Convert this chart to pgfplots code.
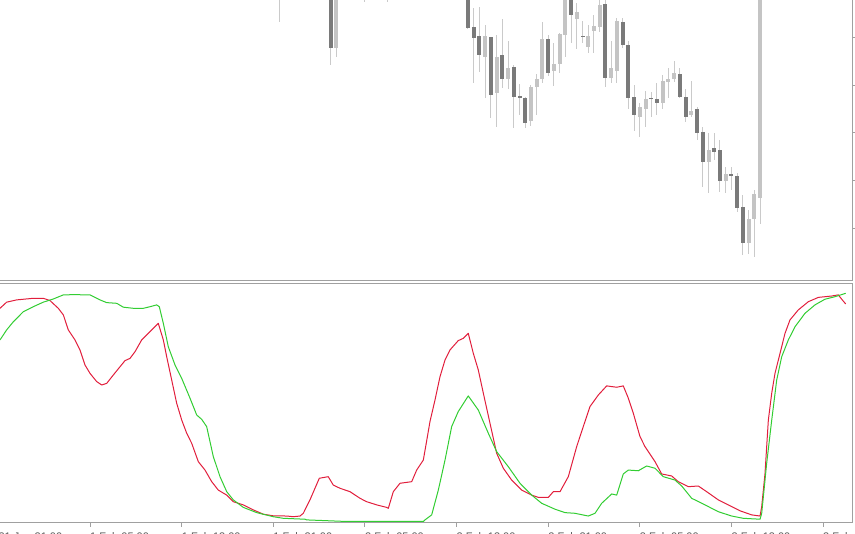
\documentclass[border=0pt]{standalone}
\usepackage{pgfplots}
\usepackage{pgfplotstable}
\pgfplotsset{compat=1.18}
\usepackage{fontspec}
\setmainfont{Liberation Sans}
\definecolor{frame}{RGB}{160,160,160}
\definecolor{bull}{RGB}{196,196,196}
\definecolor{bear}{RGB}{122,122,122}
\definecolor{wick}{RGB}{202,202,202}
\definecolor{kred}{RGB}{225,30,60}
\definecolor{kgreen}{RGB}{50,205,50}
\definecolor{lbl}{RGB}{90,90,90}

% candles: x = bar index (M30), o h l c = price height in px above the panel floor
\pgfplotstableread{
x o h l c
49 290 320 258.3 310
59 232.3 330 222.7 320
64 290 310 278 300
68 290 310 278.3 300
85 223.3 255 181.7 244.3
87 186.7 245 152.7 223.3
89 200.7 239.3 190.7 211.7
93 159.3 195 154 193.3
94 192.7 206 165 200.7
95 200.7 257.7 196.7 240.7
97 209.3 236.7 194 216
98 216 247 206.7 246
99 245 310 223.3 300
101 261 276.7 230.7 267.7
103 233.3 255 226.7 244.3
104 249.3 265 226.7 254.3
105 253.3 290 248 275
107 201.7 239.3 197.3 211.7
108 209.3 261.7 197.3 259.3
112 163.3 176.7 143.3 172.7
113 170.7 189.3 153.3 180.7
116 176.7 205 170.7 199
117 197.7 211.7 181.7 201
118 201 219.3 198.3 207.3
121 164.5 199.3 163 169
124 118.3 146.7 87.3 130
127 98.5 112.7 86.7 106
131 37.3 70 25.5 60.8
132 60.7 90 23 85.8
133 81.7 310 56.3 300
}\bullbars
\pgfplotstableread{
x o h l c
58 320 330 215 232.3
82 320 330 251 252.3
83 253.3 271.7 196.7 242.3
84 244.3 273.3 208.3 225
86 243.3 243.3 161.7 185
88 225 261 191.7 200.7
90 213.3 215 151.7 183.3
91 183.3 196 165 183
92 181.7 183.3 152.3 157.3
96 240.7 245 204.3 207.3
100 300 310 236.7 265
102 243.8 259.3 236.7 243.3
106 276 285 192.7 201.7
109 258.3 261.7 231.7 235
110 235 239.3 170.7 181.7
111 183.3 195 149.3 165
114 181.7 188.3 163.3 181.7
115 181 196.7 165 177.3
119 206 211.7 181.7 183.3
120 183.3 190.7 157.7 163.3
122 170.7 173 140 147.3
123 148.3 153.3 93.3 118.3
125 131.7 146.7 120 128
126 130 140 88.3 98.5
128 105.7 113.3 90 104
129 104.3 106.7 68.3 71.7
130 73.3 85 24.5 37.3
}\bearbars

\begin{document}
\begin{tikzpicture}[x=1pt,y=1pt]
\path[use as bounding box, clip] (0,0) rectangle (855,534);
% ---------------- price panel ----------------
\begin{axis}[
  at={(-7.33pt,253.5pt)}, anchor=south west,
  scale only axis, width=860.03pt, height=330.5pt,
  xmin=-1, xmax=149.18, ymin=-0.5, ymax=330,
  axis line style={frame, line width=1pt},
  xtick=\empty,
  ytick={51,99,147,194,242}, yticklabels={},
  ytick pos=right, tick align=outside, major tick length=3pt,
  tick style={frame, line width=1pt},
]
\addplot[draw=none, mark=none, forget plot,
  error bars/.cd, y dir=both, y explicit, error mark=none,
  error bar style={draw=wick, line width=1pt}]
  table[x=x, y expr={(\thisrow{h}+\thisrow{l})/2}, y error expr={(\thisrow{h}-\thisrow{l})/2}] {\bullbars};
\addplot[draw=none, mark=none, forget plot,
  error bars/.cd, y dir=both, y explicit, error mark=none,
  error bar style={draw=wick, line width=1pt}]
  table[x=x, y expr={(\thisrow{h}+\thisrow{l})/2}, y error expr={(\thisrow{h}-\thisrow{l})/2}] {\bearbars};
\addplot[draw=none, mark=none, forget plot,
  error bars/.cd, y dir=both, y explicit, error mark=none,
  error bar style={draw=bull, line width=4pt}]
  table[x=x, y expr={(\thisrow{o}+\thisrow{c})/2}, y error expr={max(abs(\thisrow{o}-\thisrow{c})/2,0.6)}] {\bullbars};
\addplot[draw=none, mark=none, forget plot,
  error bars/.cd, y dir=both, y explicit, error mark=none,
  error bar style={draw=bear, line width=4pt}]
  table[x=x, y expr={(\thisrow{o}+\thisrow{c})/2}, y error expr={max(abs(\thisrow{o}-\thisrow{c})/2,0.6)}] {\bearbars};
\end{axis}
% ---------------- oscillator panel ----------------
\begin{axis}[
  at={(-7.33pt,11pt)}, anchor=south west,
  scale only axis, width=860.03pt, height=239.3pt,
  xmin=-1, xmax=149.18, ymin=-0.66, ymax=104.52,
  axis line style={frame, line width=1pt},
  ytick=\empty,
  xtick={0,16,...,144},
  xticklabels={31 Jan 21:00, 1 Feb 05:00, 1 Feb 13:00, 1 Feb 21:00, 2 Feb 05:00, 2 Feb 13:00, 2 Feb 21:00, 3 Feb 05:00, 3 Feb 13:00, 3 Feb 21:00},
  xtick pos=bottom, tick align=outside, major tick length=4pt,
  tick style={frame, line width=1pt},
  xticklabel style={font=\fontsize{11}{13}\selectfont, text=lbl, anchor=north west, inner sep=0pt, yshift=-5.2pt},
]
\addplot[kred, line width=1pt, line join=round] coordinates {
(0.28,93.7) (1.44,96.4) (3.19,97.4) (6.09,98.1) (7.84,98.1) (9.01,97.1) (10.46,93.7) (11.34,90.8) (12.21,84.2) (13.38,79.8) (14.25,75.4) (15.12,68.8) (16.0,65.1) (17.16,61.5) (18.04,60.0) (18.91,60.7) (20.07,64.4) (21.23,68.0) (22.11,70.7) (22.98,71.7) (23.85,74.6) (25.02,79.8) (26.18,82.7) (27.92,87.1) (28.8,79.8) (29.39,72.4) (30.26,62.2) (31.13,52.0) (32.01,44.6) (32.88,38.8) (33.75,34.4) (34.91,26.3) (36.08,22.6) (37.25,17.5) (38.40,13.8) (39.87,11.6) (41.02,8.7) (42.77,7.3) (44.51,5.1) (46.26,3.2) (48.0,2.5) (50.34,2.4) (51.5,2.1) (52.67,2.4) (53.24,3.6) (54.41,9.5) (55.28,14.6) (56.04,19.0) (57.6,19.7) (58.48,16.0) (59.65,14.6) (61.4,13.1) (63.14,10.2) (64.31,8.7) (66.06,7.3) (67.8,6.2) (68.09,5.8) (68.96,13.1) (70.13,16.8) (72.17,17.5) (73.04,22.6) (74.2,27.0) (74.79,35.5) (75.37,44.0) (76.24,53.4) (77.11,63.6) (77.99,71.0) (78.86,75.4) (80.3,79.5) (81.18,80.5) (82.05,82.7) (82.93,73.9) (83.8,66.6) (84.68,56.4) (85.84,43.2) (87.01,30.0) (88.17,23.4) (89.63,18.2) (91.38,13.8) (93.12,11.6) (94.28,10.6) (96.03,10.6) (96.9,13.1) (98.07,13.1) (99.52,19.7) (100.98,32.9) (102.13,41.7) (103.3,50.5) (104.76,55.6) (106.22,59.6) (107.97,59.0) (109.12,59.6) (110.0,54.2) (110.87,47.6) (112.04,37.3) (112.91,32.9) (114.66,26.3) (115.82,20.9) (117.57,20.0) (118.72,17.5) (120.47,15.3) (122.22,15.6) (123.68,13.1) (125.71,9.5) (127.46,7.3) (129.5,4.7) (131.54,2.9) (133.0,2.4) (133.29,6.5) (133.87,21.2) (134.45,44.6) (135.04,56.4) (135.61,65.1) (136.49,73.9) (137.36,82.7) (138.23,88.6) (139.68,93.0) (141.43,96.6) (143.18,98.5) (145.51,99.1) (146.67,99.6) (147.26,97.7) (147.96,95.6)
};
\addplot[kgreen, line width=1pt, line join=round] coordinates {
(0.28,79.8) (1.44,84.2) (2.61,87.8) (4.35,92.2) (6.09,94.4) (7.84,96.4) (9.59,97.8) (11.34,99.6) (13.08,99.7) (16.0,99.6) (17.74,97.4) (18.91,96.2) (20.66,95.9) (21.81,94.2) (23.56,93.7) (25.31,93.7) (26.47,94.4) (27.64,95.2) (28.1,94.4) (28.8,87.1) (29.67,76.8) (30.84,68.8) (32.01,62.9) (33.46,54.2) (34.63,46.8) (35.5,44.9) (36.37,41.7) (37.53,28.5) (38.7,19.7) (39.87,13.1) (41.02,9.5) (42.77,6.2) (45.1,3.9) (48.0,2.1) (49.75,1.4) (53.54,1.0) (53.83,0.7) (60.82,0) (74.2,0) (74.5,0.7) (75.66,2.9) (76.82,13.8) (77.99,27.0) (79.15,41.7) (80.3,48.3) (82.05,55.2) (83.8,49.0) (85.55,38.8) (87.01,30.7) (89.04,24.1) (91.08,16.8) (93.12,11.6) (94.87,8.0) (97.2,5.4) (98.94,3.9) (100.69,3.6) (103.0,2.4) (104.18,3.6) (105.35,8.0) (107.1,12.1) (107.97,11.6) (109.12,20.9) (110.0,22.6) (111.74,22.3) (113.2,24.4) (114.66,23.4) (116.11,19.7) (118.15,18.2) (119.32,15.6) (121.06,10.2) (123.39,7.3) (125.71,4.3) (128.05,2.4) (130.07,1.4) (133.0,1.0) (133.29,3.6) (134.16,25.6) (135.04,44.6) (135.91,62.2) (136.78,72.4) (137.94,79.8) (139.1,85.6) (140.85,91.5) (142.59,95.2) (144.34,97.7) (146.08,98.8) (147.96,100.3)
};
\end{axis}
\end{tikzpicture}
\end{document}
